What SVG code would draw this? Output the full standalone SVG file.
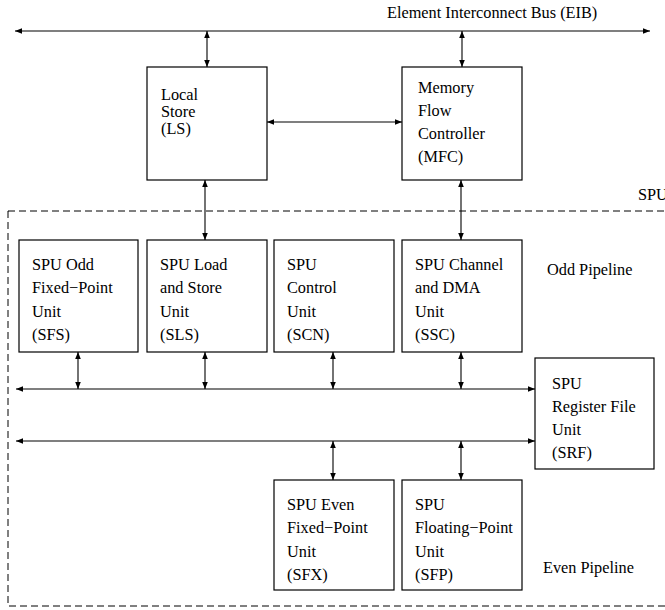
<svg xmlns="http://www.w3.org/2000/svg" width="665" height="610" viewBox="0 0 665 610" font-family="Liberation Serif, Times New Roman, DejaVu Serif, serif">
<style>
.box{fill:#fff;stroke:#000;stroke-width:1.2}
.t{font-family:'Liberation Serif','Times New Roman','DejaVu Serif',serif;font-size:16.3px;fill:#000}
.ln{stroke:#000;stroke-width:1.1;fill:none;marker-start:url(#a);marker-end:url(#a)}
.dash{fill:none;stroke:#000;stroke-width:1;stroke-dasharray:7,4}
</style>
<defs>
<marker id="a" viewBox="0 0 10 8" refX="10" refY="4" markerWidth="7" markerHeight="5.6" markerUnits="userSpaceOnUse" orient="auto-start-reverse">
<path d="M0,0 L10,4 L0,8 z" fill="#000"/>
</marker>
</defs>
<rect width="665" height="610" fill="#fff"/>
<g id="labels">
<text class="t" x="387" y="18">Element Interconnect Bus (EIB)</text>
<text class="t" x="638" y="200">SPU</text>
<text class="t" x="547" y="275">Odd Pipeline</text>
<text class="t" x="543" y="573">Even Pipeline</text>
</g>
<rect class="dash" x="8" y="211" width="670" height="395"/>

<g id="connectors">
<line class="ln" x1="15" y1="31" x2="650" y2="31"/>
<line class="ln" x1="207" y1="31" x2="207" y2="67"/>
<line class="ln" x1="462" y1="31" x2="462" y2="67"/>
<line class="ln" x1="267" y1="122" x2="402" y2="122"/>
<line class="ln" x1="205" y1="180" x2="205" y2="240"/>
<line class="ln" x1="461" y1="180" x2="461" y2="240"/>
<line class="ln" x1="78" y1="352" x2="78" y2="389"/>
<line class="ln" x1="205" y1="352" x2="205" y2="389"/>
<line class="ln" x1="333" y1="352" x2="333" y2="389"/>
<line class="ln" x1="461" y1="352" x2="461" y2="389"/>
<line class="ln" x1="16" y1="389" x2="535" y2="389"/>
<line class="ln" x1="16" y1="441" x2="535" y2="441"/>
<line class="ln" x1="333" y1="441" x2="333" y2="480"/>
<line class="ln" x1="461" y1="441" x2="461" y2="480"/>
</g>

<g id="LS">
<rect class="box" x="147" y="67" width="120" height="113"/>
<text class="t" x="161" y="100">Local</text>
<text class="t" x="161" y="117">Store</text>
<text class="t" x="161" y="134">(LS)</text>
</g>
<g id="MFC">
<rect class="box" x="402" y="67" width="120" height="113"/>
<text class="t" x="418" y="93">Memory</text>
<text class="t" x="418" y="116">Flow</text>
<text class="t" x="418" y="139">Controller</text>
<text class="t" x="418" y="162">(MFC)</text>
</g>
<g id="SFS">
<rect class="box" x="19" y="240" width="119" height="112"/>
<text class="t" x="32" y="270">SPU Odd</text>
<text class="t" x="32" y="293">Fixed−Point</text>
<text class="t" x="32" y="317">Unit</text>
<text class="t" x="32" y="340">(SFS)</text>
</g>
<g id="SLS">
<rect class="box" x="147" y="240" width="120" height="112"/>
<text class="t" x="160" y="270">SPU Load</text>
<text class="t" x="160" y="293">and Store</text>
<text class="t" x="160" y="317">Unit</text>
<text class="t" x="160" y="340">(SLS)</text>
</g>
<g id="SCN">
<rect class="box" x="274" y="240" width="120" height="112"/>
<text class="t" x="287" y="270">SPU</text>
<text class="t" x="287" y="293">Control</text>
<text class="t" x="287" y="317">Unit</text>
<text class="t" x="287" y="340">(SCN)</text>
</g>
<g id="SSC">
<rect class="box" x="402" y="240" width="120" height="112"/>
<text class="t" x="415" y="270">SPU Channel</text>
<text class="t" x="415" y="293">and DMA</text>
<text class="t" x="415" y="317">Unit</text>
<text class="t" x="415" y="340">(SSC)</text>
</g>
<g id="SRF">
<rect class="box" x="535" y="358" width="119" height="111"/>
<text class="t" x="552" y="389">SPU</text>
<text class="t" x="552" y="412">Register File</text>
<text class="t" x="552" y="435">Unit</text>
<text class="t" x="552" y="458">(SRF)</text>
</g>
<g id="SFX">
<rect class="box" x="274" y="480" width="120" height="110"/>
<text class="t" x="287" y="510">SPU Even</text>
<text class="t" x="287" y="533">Fixed−Point</text>
<text class="t" x="287" y="557">Unit</text>
<text class="t" x="287" y="580">(SFX)</text>
</g>
<g id="SFP">
<rect class="box" x="402" y="480" width="120" height="110"/>
<text class="t" x="415" y="510">SPU</text>
<text class="t" x="415" y="533">Floating−Point</text>
<text class="t" x="415" y="557">Unit</text>
<text class="t" x="415" y="580">(SFP)</text>
</g>
</svg>
